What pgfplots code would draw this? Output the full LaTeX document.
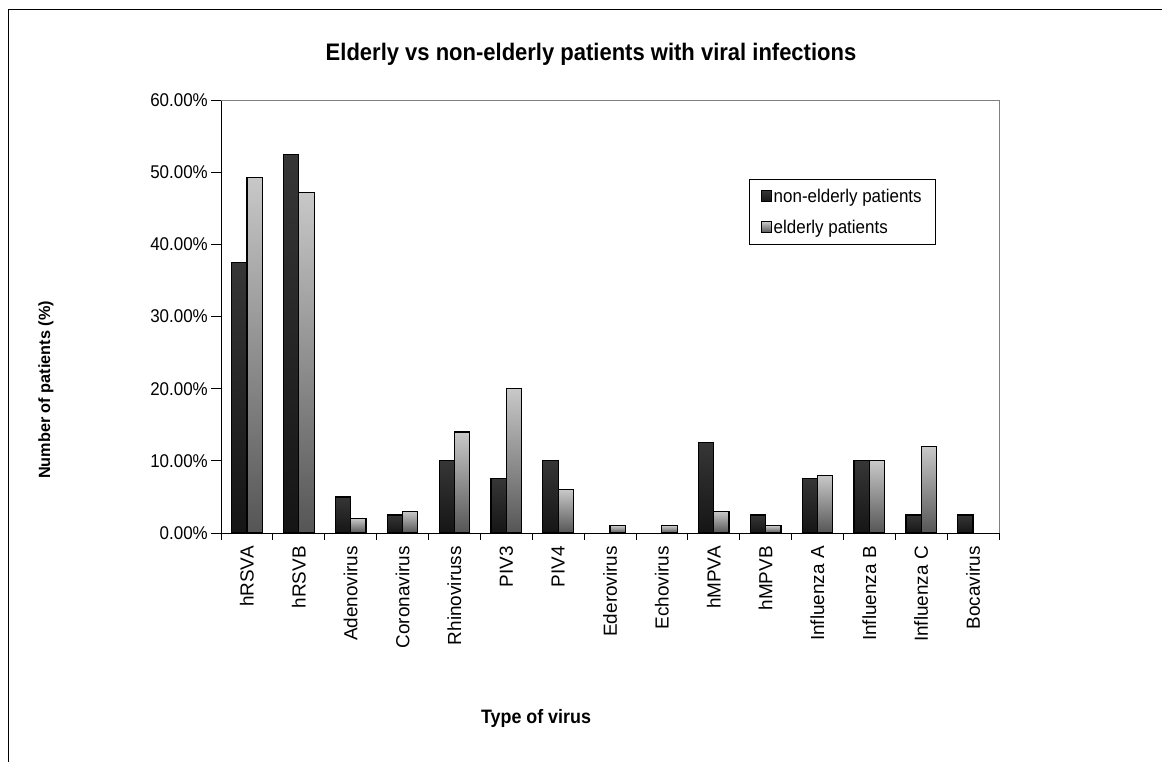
\documentclass[border=0pt]{standalone}
\usepackage{pgfplots}
\pgfplotsset{compat=1.18}
\usepackage{fontspec}
\setmainfont{Liberation Sans}
\newfontfamily\narrowfont{Liberation Sans}[FakeStretch=0.92]
\definecolor{darktop}{HTML}{363636}
\definecolor{darkbot}{HTML}{151515}
\definecolor{lighttop}{HTML}{C8C8C8}
\definecolor{lightbot}{HTML}{555555}
\pgfplotsset{
  mylegimg/.style={legend image code/.code={\draw[##1, line width=0.8bp] (0bp,-5.5bp) rectangle (10bp,5.5bp);}},
  darkbar/.style={ybar, bar width=0.295, bar shift=-0.1475, draw=black, line width=1.2bp, top color=darktop, bottom color=darkbot, mylegimg},
  lightbar/.style={ybar, bar width=0.295, bar shift=0.1475, draw=black, line width=1.2bp, top color=lighttop, bottom color=lightbot, mylegimg},
}
% one bar per \addplot so that every bar gets its own gradient
\newcommand{\barD}[2]{\addplot[darkbar, forget plot] coordinates {(#1,#2)};}
\newcommand{\barL}[2]{\addplot[lightbar, forget plot] coordinates {(#1,#2)};}
\begin{document}
\begin{tikzpicture}[x=1bp,y=1bp]
\useasboundingbox (0,0) rectangle (1162,762);
\draw[line width=1bp] (8,752) -- (1162,752);
\draw[line width=1bp] (8,752) -- (8,0);
\begin{axis}[
  at={(221bp,229bp)}, anchor=south west,
  scale only axis, width=778bp, height=433bp,
  axis lines*=left, axis line style={-, line width=0.9bp, black},
  xmin=-0.5, xmax=14.5, ymin=0, ymax=60,
  xtick={0,...,14},
  xticklabels={hRSVA,hRSVB,Adenovirus,Coronavirus,Rhinoviruss,PIV3,PIV4,Ederovirus,Echovirus,hMPVA,hMPVB,Influenza A,Influenza B,Influenza C,Bocavirus},
  minor xtick={-0.5,0.5,...,14.5},
  major x tick style={draw=none},
  minor x tick style={black, line width=0.8bp},
  minor tick length=7bp,
  ytick={0,10,...,60},
  yticklabels={0.00\%,10.00\%,20.00\%,30.00\%,40.00\%,50.00\%,60.00\%},
  y tick style={black, line width=0.8bp},
  major tick length=10bp,
  tick align=outside,
  xticklabel style={font=\fontsize{19}{22}\selectfont, rotate=90, anchor=east, inner sep=3bp},
  yticklabel style={font=\narrowfont\fontsize{18.5}{21}\selectfont, inner sep=3bp},
  legend style={at={(0.6787,0.8176)}, anchor=north west, draw=black, line width=0.8bp,
    font=\narrowfont\fontsize{18.5}{21}\selectfont, inner xsep=12bp, inner ysep=8bp, row sep=13bp,
    nodes={inner sep=1.5bp}},
  legend cell align=left,
  after end axis/.code={\draw[gray, line width=0.9bp] (rel axis cs:0,1) -- (rel axis cs:1,1) -- (rel axis cs:1,0);},
]
% legend carriers (same values as the first bars)
\addplot[darkbar] coordinates {(0,37.5)};
\addplot[lightbar] coordinates {(0,49.3)};
\legend{non-elderly patients, elderly patients}
% non-elderly patients
\barD{1}{52.4}
\barD{2}{5}
\barD{3}{2.5}
\barD{4}{10}
\barD{5}{7.5}
\barD{6}{10}
\barD{9}{12.5}
\barD{10}{2.5}
\barD{11}{7.5}
\barD{12}{10}
\barD{13}{2.5}
\barD{14}{2.5}
% elderly patients
\barL{1}{47.2}
\barL{2}{2}
\barL{3}{3}
\barL{4}{14}
\barL{5}{20}
\barL{6}{6}
\barL{7}{1}
\barL{8}{1}
\barL{9}{3}
\barL{10}{1}
\barL{11}{8}
\barL{12}{10}
\barL{13}{12}
\end{axis}
\node[font=\narrowfont\fontsize{24}{28}\selectfont\bfseries] at (591,708) {Elderly vs non-elderly patients with viral infections};
\node[font=\narrowfont\fontsize{19.5}{23}\selectfont\bfseries] at (536,44) {Type of virus};
\node[font=\fontsize{16.3}{19}\selectfont\bfseries, rotate=90] at (46,372) {Number of patients (\%)};
\end{tikzpicture}
\end{document}
